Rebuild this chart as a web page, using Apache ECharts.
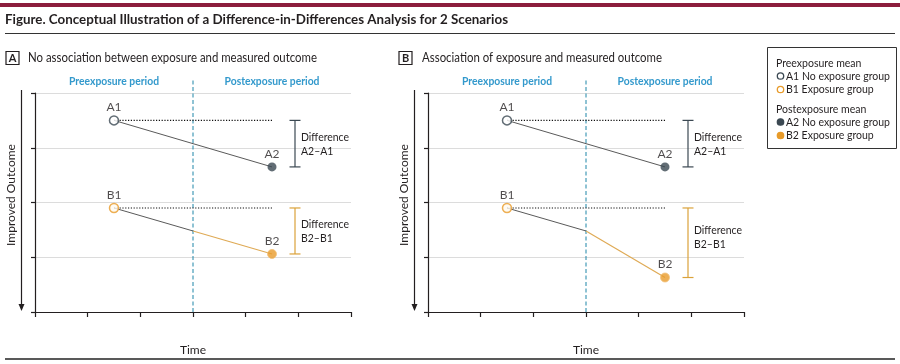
<!DOCTYPE html>
<html><head><meta charset="utf-8">
<script src="https://cdn.jsdelivr.net/npm/echarts@6/dist/echarts.min.js"></script>
<style>html,body{margin:0;padding:0;background:#fff}#c{width:900px;height:364px}</style>
</head><body><div id="c"></div>
<script>
// ---------- data ----------
const titleText = 'Figure. Conceptual Illustration of a Difference-in-Differences Analysis for 2 Scenarios';
const panelLetters = ['A', 'B'];
const panelTitles = ['No association between exposure and measured outcome', 'Association of exposure and measured outcome'];
const periodLabels = ['Preexposure period', 'Postexposure period'];
const xAxisName = 'Time';
const yAxisName = 'Improved Outcome';
const timePre = 1.5, timeSplit = 3, timePost = 4.5;
const xTicks = [0, 1, 2, 3, 4, 5, 6];
const yTicks = [0, 1, 2, 3, 4];
// values: [pre, post] for no exposure group, [pre, at split, post] for exposure group
const noExposurePanelA = [3.5, 2.65];
const exposurePanelA = [1.9, 1.48, 1.06];
const noExposurePanelB = [3.5, 2.65];
const exposurePanelB = [1.9, 1.48, 0.63];
const pointLabels = ['A1', 'A2', 'B1', 'B2'];
const diffLabels = [['Difference', 'A2\u2013A1'], ['Difference', 'B2\u2013B1']];
const legendHeads = ['Preexposure mean', 'Postexposure mean'];
const legendItems = [['A1 No exposure group', 'B1 Exposure group'], ['A2 No exposure group', 'B2 Exposure group']];

// ---------- style ----------
const FONT = 'Lato';
const INK = '#231f20';
const colA = '#3b4852';
const colB = '#e89b2a';
const colBLine = '#dfaa55';
const colTrend = '#5a5a5a';
const colSplit = '#1f86a8';
const colPeriod = '#3399cc';
const grids = [{left: 35, top: 93, width: 316, height: 219}, {left: 428, top: 93, width: 316, height: 219}];
const textShift = [[0, 0], [0, -6]];

const mctx = document.createElement('canvas').getContext('2d');
function fit(text, font, target) { mctx.font = font; return target / mctx.measureText(text).width; }

const panels = [[noExposurePanelA, exposurePanelA], [noExposurePanelB, exposurePanelB]];

const sDiff = fit('Difference', '12px ' + FONT, 48);
const sPeriod = fit('Preexposure period', 'bold 12px ' + FONT, 90);

function splitRender(params, api) {
  const p0 = api.coord([api.value(0), yTicks[0]]);
  const p1 = api.coord([api.value(0), yTicks[yTicks.length - 1]]);
  const top = p1[1] - 15;
  const cPre = api.coord([timePre, yTicks[yTicks.length - 1]]);
  const cPost = api.coord([timePost, yTicks[yTicks.length - 1]]);
  const ts = {fontFamily: FONT, fontSize: 12, fontWeight: 'bold', fill: colPeriod, align: 'center', verticalAlign: 'middle'};
  return {type: 'group', children: [
    {type: 'line', shape: {x1: p0[0], y1: p0[1], x2: p0[0], y2: top}, style: {stroke: colSplit, lineWidth: 1, lineDash: [4, 2.5]}},
    {type: 'text', x: cPre[0], y: top + 3, scaleX: sPeriod, style: Object.assign({text: periodLabels[0]}, ts)},
    {type: 'text', x: cPost[0], y: top + 3, scaleX: sPeriod, style: Object.assign({text: periodLabels[1]}, ts)}
  ]};
}

function bracketRender(panel) {
  return function (params, api) {
    const xv = api.value(0), y1 = api.value(1), y2 = api.value(2), k = api.value(3);
    const p1 = api.coord([xv, y1]), p2 = api.coord([xv, y2]);
    const x = p1[0] + 23;
    const col = k === 0 ? colA : '#dba23a';
    const mid = (p1[1] + p2[1]) / 2 + textShift[panel][k];
    const ts = {fontFamily: FONT, fontSize: 12, fill: INK, align: 'left', verticalAlign: 'middle'};
    return {type: 'group', children: [
      {type: 'line', shape: {x1: x, y1: p1[1], x2: x, y2: p2[1]}, style: {stroke: col, lineWidth: 1.2}},
      {type: 'line', shape: {x1: x - 5.5, y1: p1[1], x2: x + 5.5, y2: p1[1]}, style: {stroke: col, lineWidth: 1.2}},
      {type: 'line', shape: {x1: x - 5.5, y1: p2[1], x2: x + 5.5, y2: p2[1]}, style: {stroke: col, lineWidth: 1.2}},
      {type: 'text', x: x + 6, y: mid - 7, scaleX: sDiff, style: Object.assign({text: diffLabels[k][0]}, ts)},
      {type: 'text', x: x + 6, y: mid + 7, scaleX: sDiff, style: Object.assign({text: diffLabels[k][1]}, ts)}
    ]};
  };
}

const xAxes = [], yAxes = [], series = [];
panels.forEach((pd, i) => {
  const [noExp, exp] = pd;
  xAxes.push({
    gridIndex: i, type: 'value', min: xTicks[0], max: xTicks[xTicks.length - 1], interval: 1,
    axisLine: {show: true, onZero: false, lineStyle: {color: INK, width: 1.2}},
    axisTick: {show: true, length: 5, lineStyle: {color: INK, width: 1.2}},
    axisLabel: {show: false}, splitLine: {show: false},
    name: xAxisName, nameLocation: 'middle', nameGap: 32,
    nameTextStyle: {fontFamily: FONT, fontSize: 12, color: INK}
  });
  yAxes.push({
    gridIndex: i, type: 'value', min: yTicks[0], max: yTicks[yTicks.length - 1], interval: 1,
    axisLine: {show: true, onZero: false, lineStyle: {color: INK, width: 1.2}},
    axisTick: {show: true, length: 4, lineStyle: {color: INK, width: 1.2}},
    axisLabel: {show: false},
    splitLine: {show: true, lineStyle: {color: '#dcdcdc', width: 1}}
  });
  const ax = {xAxisIndex: i, yAxisIndex: i, silent: true};
  // dotted reference lines
  series.push(Object.assign({type: 'line', symbol: 'none', z: 2, data: [[timePre, noExp[0]], [timePost, noExp[0]]],
    lineStyle: {color: '#111', width: 1.2, type: [1.2, 1.6]}}, ax));
  series.push(Object.assign({type: 'line', symbol: 'none', z: 2, data: [[timePre, exp[0]], [timePost, exp[0]]],
    lineStyle: {color: '#111', width: 1.2, type: [1.2, 1.6]}}, ax));
  // trend lines
  series.push(Object.assign({type: 'line', symbol: 'none', z: 3, data: [[timePre, noExp[0]], [timePost, noExp[1]]],
    lineStyle: {color: colTrend, width: 1}}, ax));
  series.push(Object.assign({type: 'line', symbol: 'none', z: 3, data: [[timePre, exp[0]], [timeSplit, exp[1]]],
    lineStyle: {color: colTrend, width: 1}}, ax));
  series.push(Object.assign({type: 'line', symbol: 'none', z: 3, data: [[timeSplit, exp[1]], [timePost, exp[2]]],
    lineStyle: {color: colBLine, width: 1.2}}, ax));
  // split line & period headers
  series.push(Object.assign({type: 'custom', z: 1, clip: false, renderItem: splitRender, data: [[timeSplit]]}, ax));
  // brackets
  series.push(Object.assign({type: 'custom', z: 4, clip: false, renderItem: bracketRender(i),
    data: [[timePost, noExp[0], noExp[1], 0], [timePost, exp[0], exp[exp.length - 1], 1]]}, ax));
  // points
  const lab = {show: true, position: 'top', distance: 2, formatter: '{b}', fontFamily: FONT, fontSize: 12, color: INK};
  series.push(Object.assign({type: 'scatter', z: 5, symbol: 'circle', symbolSize: 9, label: lab, data: [
    {name: pointLabels[0], value: [timePre, noExp[0]], itemStyle: {color: '#fff', borderColor: colA, borderWidth: 1.5}},
    {name: pointLabels[1], value: [timePost, noExp[1]], itemStyle: {color: colA, borderColor: colA, borderWidth: 0}},
    {name: pointLabels[2], value: [timePre, exp[0]], itemStyle: {color: '#fffaf0', borderColor: colB, borderWidth: 1.5}},
    {name: pointLabels[3], value: [timePost, exp[exp.length - 1]], itemStyle: {color: colB, borderColor: '#f3c27a', borderWidth: 1}}
  ]}, ax));
});

// ---------- graphic decorations ----------
const g = [];
g.push({type: 'rect', shape: {x: 0, y: 3, width: 900, height: 4}, style: {fill: '#8c1d3d'}});
g.push({type: 'text', x: 5, y: 19, scaleX: fit(titleText, 'bold 14px ' + FONT, 503),
  style: {text: titleText, fontFamily: FONT, fontSize: 14, fontWeight: 'bold', fill: INK, verticalAlign: 'middle'}});
g.push({type: 'line', shape: {x1: 5, y1: 33.5, x2: 895, y2: 33.5}, style: {stroke: '#333', lineWidth: 1.2}});
g.push({type: 'line', shape: {x1: 5, y1: 359, x2: 895, y2: 359}, style: {stroke: '#222', lineWidth: 1.5}});

const boxX = [6, 399], subX = [28, 422], subW = [289, 240];
const yLabX = [11, 404], arrowX = [21.5, 414.5];
for (let i = 0; i < 2; i++) {
  g.push({type: 'rect', shape: {x: boxX[i], y: 51.5, width: 13, height: 13}, style: {fill: '#fff', stroke: INK, lineWidth: 1.2}});
  g.push({type: 'text', x: boxX[i] + 6.5, y: 58.5, style: {text: panelLetters[i], fontFamily: FONT, fontSize: 11, fontWeight: 'bold', fill: INK, align: 'center', verticalAlign: 'middle'}});
  g.push({type: 'text', x: subX[i], y: 58, scaleX: fit(panelTitles[i], '13px ' + FONT, subW[i]),
    style: {text: panelTitles[i], fontFamily: FONT, fontSize: 13, fill: INK, verticalAlign: 'middle'}});
  g.push({type: 'text', x: yLabX[i], y: 195, rotation: Math.PI / 2,
    style: {text: yAxisName, fontFamily: FONT, fontSize: 12, fill: INK, align: 'center', verticalAlign: 'middle'}});
  g.push({type: 'line', shape: {x1: arrowX[i], y1: 90, x2: arrowX[i], y2: 306}, style: {stroke: INK, lineWidth: 1.2}});
  g.push({type: 'polygon', shape: {points: [[arrowX[i] - 3, 304], [arrowX[i] + 3, 304], [arrowX[i], 311]]}, style: {fill: INK}});
}

// legend
g.push({type: 'rect', shape: {x: 767.5, y: 47.5, width: 129, height: 101}, style: {fill: '#fff', stroke: '#333', lineWidth: 1}});
const lgFont = '12px ' + FONT;
const sLeg = fit('A1 No exposure group', lgFont, 104);
const legSym = [[{color: '#fff', border: colA}, {color: '#fff', border: colB}], [{color: colA, border: colA}, {color: colB, border: colB}]];
[0, 1].forEach(k => {
  const y0 = k === 0 ? 63 : 109;
  g.push({type: 'text', x: 776, y: y0, scaleX: sLeg, style: {text: legendHeads[k], fontFamily: FONT, fontSize: 12, fill: INK, verticalAlign: 'middle'}});
  legendItems[k].forEach((t, j) => {
    const yy = y0 + 13 + j * 13.5;
    g.push({type: 'circle', shape: {cx: 780.5, cy: yy, r: 3.2}, style: {fill: legSym[k][j].color, stroke: legSym[k][j].border, lineWidth: 1.3}});
    g.push({type: 'text', x: 786, y: yy, scaleX: sLeg, style: {text: t, fontFamily: FONT, fontSize: 12, fill: INK, verticalAlign: 'middle'}});
  });
});

const chart = echarts.init(document.getElementById('c'), null, {renderer: 'canvas'});
chart.setOption({
  animation: false,
  backgroundColor: '#fff',
  grid: grids,
  xAxis: xAxes,
  yAxis: yAxes,
  series: series,
  graphic: g
});
</script>
</body></html>
